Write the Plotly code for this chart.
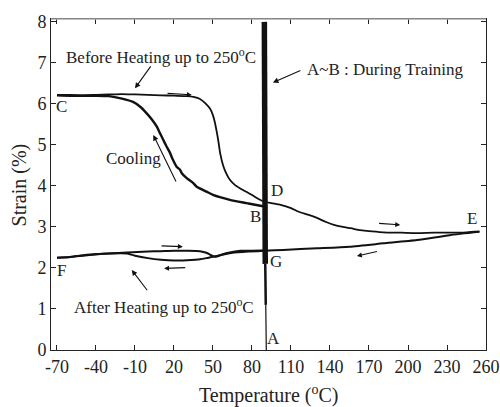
import plotly.graph_objects as go

# ---- data ----
# Heating before 250C : C -> D -> E
heat1_T = [-70, -60, -50, -40, -30, -20, -10, 0, 10, 20, 30, 35, 40, 44, 47.8, 50, 51.6, 53, 54, 55.5,
           57.8, 60, 63, 67, 71, 76, 80, 85, 89, 95, 102, 110, 116, 123, 130, 137, 143, 150, 156, 163,
           170, 181, 195, 207, 220, 232, 245, 255]
heat1_S = [6.22, 6.22, 6.21, 6.22, 6.23, 6.24, 6.23, 6.22, 6.21, 6.20, 6.19, 6.17, 6.12, 6.02, 5.88, 5.72,
           5.53, 5.30, 5.12, 4.80, 4.50, 4.32, 4.15, 4.02, 3.94, 3.85, 3.78, 3.68, 3.62, 3.58, 3.54, 3.46,
           3.37, 3.30, 3.22, 3.12, 3.05, 3.00, 2.97, 2.92, 2.90, 2.87, 2.86, 2.85, 2.86, 2.86, 2.87, 2.89]

# Cooling after training : B -> C
cool1_T = [90, 87.6, 76, 63, 50, 45, 37.5, 34.8, 29.8, 26, 24.7, 22, 19, 17, 14, 11.8, 9, 6.7, 3, -1, -6,
           -11.5, -20, -30, -40, -50, -60, -70]
cool1_S = [3.50, 3.51, 3.58, 3.66, 3.78, 3.86, 3.98, 4.07, 4.19, 4.31, 4.39, 4.47, 4.65, 4.80, 4.98, 5.12,
           5.30, 5.45, 5.62, 5.77, 5.93, 6.05, 6.13, 6.19, 6.20, 6.20, 6.20, 6.21]

# Cooling from 250C : E -> G -> F
cool2_T = [255, 232, 207, 181, 155, 130, 104, 90, 78, 65, 58, 53, 50.5, 45, 40, 30, 20, 10, 0, -10, -16,
           -30, -40, -50, -60, -70]
cool2_S = [2.88, 2.80, 2.68, 2.60, 2.52, 2.48, 2.44, 2.42, 2.40, 2.37, 2.33, 2.29, 2.28, 2.24, 2.21, 2.19,
           2.18, 2.20, 2.24, 2.30, 2.35, 2.35, 2.33, 2.30, 2.27, 2.25]

# Heating after 250C : F -> G
heat2_T = [-70, -60, -50, -40, -30, -16, 0, 10, 20, 30, 40, 45, 48, 50.5, 53, 56, 60, 71, 80, 90]
heat2_S = [2.25, 2.27, 2.31, 2.34, 2.35, 2.38, 2.40, 2.41, 2.42, 2.42, 2.41, 2.37, 2.32, 2.28, 2.28, 2.32,
           2.36, 2.42, 2.42, 2.43]

# Training A~B (vertical line near 90C), thick / medium / thin segments
train_thick_T = [89.5, 90.2]
train_thick_S = [8.0, 2.1]
train_mid_T = [90.2, 90.6]
train_mid_S = [2.1, 1.1]
train_thin_T = [90.6, 91.0]
train_thin_S = [1.1, 0.0]

x_ticks = [-70, -40, -10, 20, 50, 80, 110, 140, 170, 200, 230, 260]
y_ticks = [0, 1, 2, 3, 4, 5, 6, 7, 8]

FONT = "Times New Roman"
INK = "#111111"

fig = go.Figure()
for T, S, w in [(heat1_T, heat1_S, 1.8), (cool1_T, cool1_S, 2.4), (cool2_T, cool2_S, 2.0),
                (heat2_T, heat2_S, 2.0), (train_thick_T, train_thick_S, 5.5),
                (train_mid_T, train_mid_S, 2.5), (train_thin_T, train_thin_S, 1.2)]:
    fig.add_trace(go.Scatter(x=T, y=S, mode="lines", line=dict(color=INK, width=w, shape="spline", smoothing=0.6),
                             showlegend=False, hoverinfo="skip"))

ann = []
def label(x, y, text, size=17, xanchor="center"):
    ann.append(dict(x=x, y=y, xref="x", yref="y", text=text, showarrow=False,
                    xanchor=xanchor, yanchor="middle",
                    font=dict(family=FONT, size=size, color="#222")))

def arrow(x0, y0, x1, y1, size=1.0, width=1.1):
    ann.append(dict(x=x1, y=y1, ax=x0, ay=y0, xref="x", yref="y", axref="x", ayref="y",
                    text="", showarrow=True, arrowhead=2, arrowsize=size, arrowwidth=width,
                    arrowcolor=INK))

label(-66.4, 5.93, "C")
label(-66.4, 1.93, "F")
label(249.2, 3.21, "E")
label(99.1, 3.89, "D")
label(82.4, 3.26, "B")
label(98.2, 2.15, "G")
label(96.5, 0.29, "A")

label(-64.6, 7.17, "Before Heating up to 250<sup>o</sup>C", xanchor="left")
arrow(2.9, 6.95, -10, 6.38)
label(-11.5, 4.68, "Cooling")
arrow(22.1, 4.07, 4.1, 5.24)
arrow(13.9, 6.26, 33.7, 6.22, size=0.9)
label(120.9, 6.83, "A~B : During Training", xanchor="left")
arrow(118.4, 6.83, 96.1, 6.52)
arrow(9.3, 2.54, 26.8, 2.52, size=0.9)
arrow(29.8, 2.01, 12.4, 1.99, size=0.9)
label(-58.7, 1.07, "After Heating up to 250<sup>o</sup>C", xanchor="left")
arrow(0.3, 1.42, -12.5, 1.95)
arrow(176.6, 3.09, 194, 3.05, size=0.9)
arrow(177.3, 2.41, 160.7, 2.29, size=0.9)

# axis titles as paper annotations for exact placement
ann.append(dict(x=0.5, y=-0.133, xref="paper", yref="paper", text="Temperature (<sup>o</sup>C)",
                showarrow=False, xanchor="center", yanchor="middle",
                font=dict(family=FONT, size=20, color="#222")))
ann.append(dict(x=-0.0713, y=0.5, xref="paper", yref="paper", text="Strain (%)", textangle=-90,
                showarrow=False, xanchor="center", yanchor="middle",
                font=dict(family=FONT, size=20, color="#222")))

fig.update_layout(
    width=500, height=407,
    margin=dict(l=51, r=14, t=19, b=57),
    paper_bgcolor="white", plot_bgcolor="white",
    font=dict(family=FONT, size=18, color="#222"),
    annotations=ann,
    shapes=[dict(type="line", xref="paper", yref="paper", x0=0, x1=1, y0=1, y1=1,
                 line=dict(color="#aaaaaa", width=1.5), layer="above")],
    xaxis=dict(range=[-74.6, 260], tickvals=x_ticks, ticktext=[str(v) for v in x_ticks],
               ticks="inside", ticklen=5, tickcolor="#222", showline=True, linecolor="#222",
               linewidth=1, mirror="ticks", showgrid=False, zeroline=False, automargin=False,
               tickfont=dict(family=FONT, size=18, color="#222")),
    yaxis=dict(range=[0, 8.07], tickvals=y_ticks, ticks="inside", ticklen=5, tickcolor="#222",
               showline=True, linecolor="#222", linewidth=1, mirror="ticks", showgrid=False,
               zeroline=False, automargin=False, tickfont=dict(family=FONT, size=18, color="#222")),
)

fig.write_html("out.html")
